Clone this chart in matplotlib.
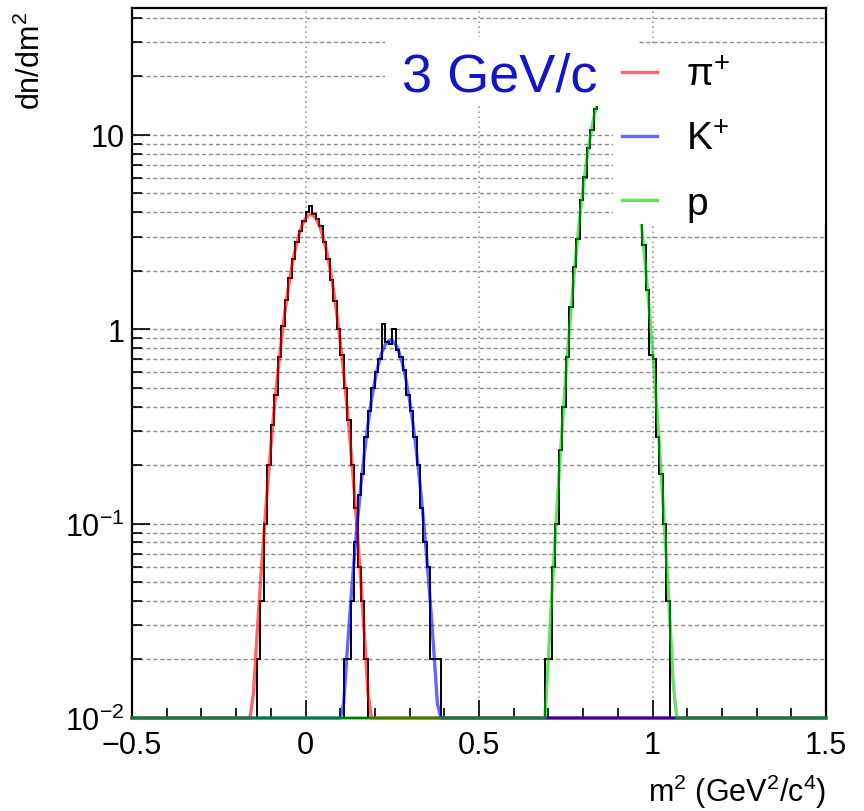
import numpy as np
import matplotlib.pyplot as plt
from matplotlib.patches import Rectangle
from matplotlib.ticker import LogLocator, MultipleLocator, NullFormatter

plt.rcParams['font.family'] = ['Liberation Sans', 'DejaVu Sans']
plt.rcParams['mathtext.fontset'] = 'custom'
plt.rcParams['mathtext.rm'] = 'Liberation Sans'
plt.rcParams['mathtext.it'] = 'Liberation Sans:italic'
plt.rcParams['mathtext.bf'] = 'Liberation Sans:bold'

# histogram contents (bin width 0.01)
bin_width = 0.01
pion_first_edge = -0.14
pion_counts = [0.02, 0.04, 0.10, 0.20, 0.32, 0.46, 0.72, 1.04, 1.42, 1.84,
               2.3, 2.8, 3.2, 3.6, 4.0, 4.3, 3.9, 3.7, 3.4, 2.8,
               2.3, 1.8, 1.4, 1.0, 0.74, 0.5, 0.34, 0.2, 0.12, 0.06,
               0.04, 0.02]
kaon_first_edge = 0.11
kaon_counts = [0.02, 0.02, 0.04, 0.08, 0.14, 0.18, 0.28, 0.38, 0.5, 0.6,
               0.7, 1.06, 0.86, 0.84, 1.0, 0.78, 0.72, 0.62, 0.46, 0.38,
               0.28, 0.2, 0.12, 0.08, 0.06, 0.02, 0.02, 0.02]
proton_first_edge = 0.69
proton_counts = [0.02, 0.02, 0.06, 0.1, 0.24, 0.4, 0.72, 1.3, 2.1, 2.9,
                 4.6, 6.1, 8.6, 10.6, 13.6, 15.6, 17.8, 19.3, 19.9, 19.8,
                 18.8, 17.0, 14.9, 12.4, 9.9, 7.6, 5.5, 3.9, 2.7, 1.6,
                 0.74, 0.7, 0.28, 0.18, 0.1, 0.04]

# fit curves (values below the frame are drawn on the bottom edge)
pion_fit_x = [-0.5, -0.16, -0.15, -0.14, -0.13, -0.12, -0.11, -0.10, -0.09, -0.08,
              -0.07, -0.06, -0.05, -0.04, -0.03, -0.02, -0.01, 0.00, 0.01, 0.02,
              0.03, 0.04, 0.05, 0.06, 0.07, 0.08, 0.09, 0.10, 0.11, 0.12,
              0.13, 0.14, 0.15, 0.16, 0.17, 0.18, 0.19, 1.5]
pion_fit_y = [0.0, 0.0066, 0.0134, 0.0262, 0.0489, 0.0877, 0.151, 0.248, 0.393, 0.596,
              0.866, 1.21, 1.62, 2.08, 2.56, 3.02, 3.42, 3.72, 3.88, 3.88,
              3.72, 3.42, 3.02, 2.56, 2.08, 1.62, 1.21, 0.866, 0.596, 0.393,
              0.248, 0.151, 0.0877, 0.0489, 0.0262, 0.0134, 0.0066, 0.0]
kaon_fit_x = [-0.5, 0.10, 0.11, 0.12, 0.13, 0.14, 0.15, 0.16, 0.17, 0.18,
              0.19, 0.20, 0.21, 0.22, 0.23, 0.24, 0.25, 0.26, 0.27, 0.28,
              0.29, 0.30, 0.31, 0.32, 0.33, 0.34, 0.35, 0.36, 0.37, 0.38,
              0.39, 1.5]
kaon_fit_y = [0.0, 0.0061, 0.0119, 0.0219, 0.0387, 0.065, 0.104, 0.160, 0.233, 0.324,
              0.431, 0.545, 0.659, 0.759, 0.834, 0.875, 0.875, 0.834, 0.759, 0.659,
              0.545, 0.431, 0.324, 0.233, 0.160, 0.104, 0.065, 0.0387, 0.0219, 0.0119,
              0.0061, 0.0]
proton_fit_x = [-0.5, 0.68, 0.69, 0.70, 0.71, 0.72, 0.73, 0.74, 0.75, 0.76,
                0.77, 0.78, 0.79, 0.80, 0.81, 0.82, 0.83, 0.84, 0.85, 0.86,
                0.87, 0.88, 0.89, 0.90, 0.91, 0.92, 0.93, 0.94, 0.95, 0.96,
                0.97, 0.98, 0.99, 1.00, 1.01, 1.02, 1.03, 1.04, 1.05, 1.06,
                1.07, 1.5]
proton_fit_y = [0.0, 0.004, 0.0092, 0.0204, 0.0433, 0.0879, 0.171, 0.318, 0.568, 0.969,
                1.58, 2.48, 3.72, 5.33, 7.32, 9.63, 12.1, 14.6, 16.9, 18.6,
                19.7, 20.0, 19.4, 18.0, 16.0, 13.6, 11.1, 8.67, 6.48, 4.64,
                3.18, 2.08, 1.31, 0.787, 0.453, 0.250, 0.132, 0.0666, 0.0322, 0.0149,
                0.0066, 0.0]

labels = ['\u03c0$^{+}$', 'K$^{+}$', 'p']
colors = ['#ff0000', '#0000ff', '#00cc00']
y_min, y_max = 0.01, 45

fig = plt.figure(figsize=(8.64, 8.12), dpi=100)
ax = fig.add_axes([132 / 864, 1 - 719 / 812, 694 / 864, 710 / 812])

for first, counts in [(pion_first_edge, pion_counts),
                      (kaon_first_edge, kaon_counts),
                      (proton_first_edge, proton_counts)]:
    edges = first + bin_width * np.arange(len(counts) + 1)
    ax.stairs(counts, edges, baseline=y_min, color='black', lw=1.4, zorder=2)

handles = []
for fx, fy, c in zip([pion_fit_x, kaon_fit_x, proton_fit_x],
                     [pion_fit_y, kaon_fit_y, proton_fit_y], colors):
    line, = ax.plot(fx, np.clip(fy, y_min, None), color=c, lw=2.4, alpha=0.6,
                    zorder=3, clip_on=False)
    handles.append(line)

ax.set_yscale('log')
ax.set_xlim(-0.5, 1.5)
ax.set_ylim(y_min, y_max)

ax.set_xticks([-0.5, 0, 0.5, 1, 1.5], labels=['\u22120.5', '0', '0.5', '1', '1.5'])
ax.xaxis.set_minor_locator(MultipleLocator(0.1))
ax.set_yticks([0.01, 0.1, 1, 10], labels=[r'$10^{-2}$', r'$10^{-1}$', '1', '10'])
ax.yaxis.set_minor_locator(LogLocator(subs=np.arange(2, 10)))
ax.yaxis.set_minor_formatter(NullFormatter())

ax.tick_params(which='both', direction='in', top=False, right=False, width=1.2, labelsize=22)
ax.tick_params(which='major', length=13)
ax.tick_params(which='minor', length=7)
ax.tick_params(axis='x', pad=9)
ax.tick_params(axis='y', pad=5)
for s in ax.spines.values():
    s.set_linewidth(1.6)

ax.yaxis.grid(True, which='both', linestyle=(0, (3, 2)), color='#8c8c8c', lw=1.0)
ax.xaxis.grid(True, which='major', linestyle=(0, (1, 2)), color='#a0a0a0', lw=1.2)
ax.set_axisbelow(True)

ax.set_xlabel(r'm$^{2}$ (GeV$^{2}$/c$^{4}$)', fontsize=22, loc='right')
ax.xaxis.set_label_coords(1.0, -0.075)
ax.set_ylabel(r'dn/dm$^{2}$', fontsize=22, loc='top')
ax.yaxis.set_label_coords(-0.122, 0.995)

# white boxes behind the momentum label and the legend
ax.add_patch(Rectangle((0.3646, 0.862), 0.3631, 0.097, transform=ax.transAxes,
                       facecolor='white', edgecolor='none', zorder=4))
ax.add_patch(Rectangle((0.693, 0.696), 0.305, 0.252, transform=ax.transAxes,
                       facecolor='white', edgecolor='none', zorder=4))
ax.text(0.389, 0.904, '3 GeV/c', transform=ax.transAxes, fontsize=39,
        color='#1414c8', va='center', ha='left', zorder=5)

leg = ax.legend(handles, labels, loc='upper left', bbox_to_anchor=(0.706, 0.93),
                frameon=False, fontsize=28, handlelength=0.9, handletextpad=0.75,
                labelspacing=0.72, borderpad=0, borderaxespad=0)
leg.set_zorder(6)

fig.savefig('out.png', dpi=100)
